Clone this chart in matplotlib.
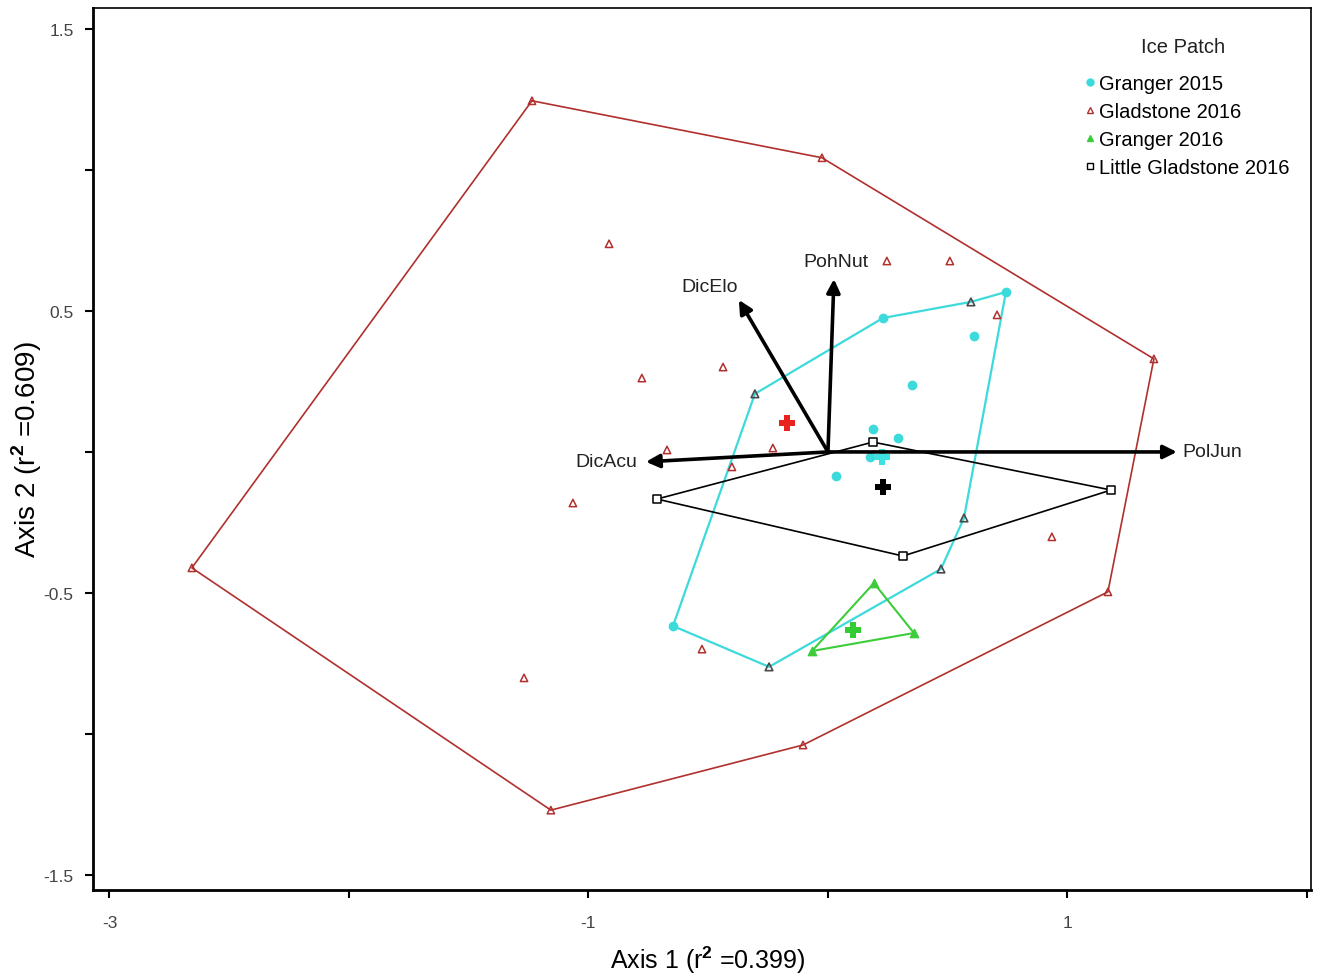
import matplotlib
matplotlib.use("Agg")
import matplotlib.pyplot as plt
from matplotlib.lines import Line2D

plt.rcParams['font.family'] = ['Liberation Sans', 'DejaVu Sans']
plt.rcParams['mathtext.fontset'] = 'custom'
plt.rcParams['mathtext.bf'] = 'Liberation Sans:bold'
plt.rcParams['mathtext.rm'] = 'Liberation Sans'

# NMS site scores, axis 1 / axis 2
glad16_x = [-1.236, -0.025, 1.361, 1.169, -0.104, -1.157, -2.656,
            -0.914, 0.246, 0.509, 0.706, -0.777, -0.438, -0.672, -0.230,
            -0.401, -1.065, 0.935, -0.526, -1.269]
glad16_y = [1.245, 1.043, 0.330, -0.496, -1.039, -1.270, -0.411,
            0.738, 0.677, 0.677, 0.486, 0.262, 0.301, 0.007, 0.014,
            -0.053, -0.181, -0.301, -0.699, -0.801]
glad16_hull = [0, 1, 2, 3, 4, 5, 6]

# plots shared by the Granger 2015 hull (drawn as dark triangles)
shared_x = [-0.305, 0.597, 0.568, 0.472, -0.246]
shared_y = [0.206, 0.532, -0.234, -0.415, -0.762]

gran15_x = [0.743, 0.230, 0.610, 0.351, 0.188, 0.292, 0.175, 0.033, -0.647]
gran15_y = [0.567, 0.475, 0.411, 0.238, 0.082, 0.050, -0.018, -0.085, -0.617]
gran15_hull_x = [-0.305, 0.230, 0.597, 0.743, 0.568, 0.472, -0.246, -0.647]
gran15_hull_y = [0.206, 0.475, 0.532, 0.567, -0.234, -0.415, -0.762, -0.617]

gran16_x = [0.192, 0.359, -0.067]
gran16_y = [-0.465, -0.642, -0.706]

little_x = [-0.714, 0.188, 1.182, 0.313]
little_y = [-0.167, 0.035, -0.135, -0.369]

# group centroids
cent_x = [-0.171, 0.225, 0.230, 0.104]
cent_y = [0.103, -0.018, -0.124, -0.631]
cent_colors = ['#e8221c', '#3fe0e0', 'black', '#33cc33']

# species vectors
species = ['PolJun', 'DicAcu', 'DicElo', 'PohNut']
vec_x = [1.457, -0.760, -0.372, 0.025]
vec_y = [0.0, -0.035, 0.539, 0.613]

RED = '#b0302e'
CYAN = '#3ddadc'
GREEN = '#3ccc3c'

fig = plt.figure(figsize=(13.28, 9.78), dpi=100)
ax = fig.add_axes([0.070, 0.089, 0.9172, 0.9018])
ax.set_xlim(-3.069, 2.017)
ax.set_ylim(-1.553, 1.574)


def closed(xs, ys):
    return list(xs) + [xs[0]], list(ys) + [ys[0]]


# convex hulls
hx, hy = closed([glad16_x[i] for i in glad16_hull], [glad16_y[i] for i in glad16_hull])
ax.plot(hx, hy, color=RED, lw=1.2, zorder=2)
hx, hy = closed(gran15_hull_x, gran15_hull_y)
ax.plot(hx, hy, color=CYAN, lw=1.6, zorder=2)
hx, hy = closed(gran16_x, gran16_y)
ax.plot(hx, hy, color=GREEN, lw=1.5, zorder=2)
hx, hy = closed(little_x, little_y)
ax.plot(hx, hy, color='black', lw=1.2, zorder=2)

# points
ax.scatter(glad16_x, glad16_y, marker='^', s=28, facecolors='none',
           edgecolors=RED, linewidths=1.1, zorder=3)
ax.scatter(shared_x, shared_y, marker='^', s=30, facecolors='none',
           edgecolors='#4a4a4a', linewidths=1.2, zorder=3)
ax.scatter(gran15_x, gran15_y, marker='o', s=36, color=CYAN, zorder=3)
ax.scatter(gran16_x, gran16_y, marker='^', s=36, color=GREEN, zorder=3)
ax.scatter(little_x, little_y, marker='s', s=28, facecolors='white',
           edgecolors='black', linewidths=1.1, zorder=3)

for cx, cy, cc in zip(cent_x, cent_y, cent_colors):
    ax.plot(cx, cy, marker='P', markersize=11, color=cc, markeredgewidth=0, zorder=4)

# species vectors
for name, vx, vy in zip(species, vec_x, vec_y):
    ax.annotate('', xy=(vx, vy), xytext=(0, 0),
                arrowprops=dict(arrowstyle='-|>', color='black', lw=2.6,
                                mutation_scale=20, shrinkA=0, shrinkB=0),
                zorder=5)

label_kw = dict(fontsize=14, color='#222222', zorder=6)
ax.text(1.482, 0.0, 'PolJun', ha='left', va='center', **label_kw)
ax.text(-0.797, -0.035, 'DicAcu', ha='right', va='center', **label_kw)
ax.text(-0.493, 0.585, 'DicElo', ha='center', va='center', **label_kw)
ax.text(0.033, 0.674, 'PohNut', ha='center', va='center', **label_kw)

# axes and ticks
ax.set_xticks([-3, -2, -1, 0, 1, 2])
ax.set_xticklabels(['-3', '', '-1', '', '1', ''])
ax.set_yticks([1.5, 1.0, 0.5, 0.0, -0.5, -1.0, -1.5])
ax.set_yticklabels(['1.5', '', '0.5', '', '-0.5', '', '-1.5'])
ax.tick_params(axis='both', direction='out', length=6, width=1.5,
               labelsize=12.5, labelcolor='#444444')
ax.tick_params(axis='x', pad=12)
ax.tick_params(axis='y', pad=8)
for side in ['left', 'bottom']:
    ax.spines[side].set_linewidth(2.0)
for side in ['top', 'right']:
    ax.spines[side].set_linewidth(1.2)

ax.set_xlabel('Axis 1 (r$^{\\mathbf{2}}$ =0.399)', fontsize=18)
ax.xaxis.set_label_coords(0.505, -0.061)
ax.set_ylabel('Axis 2 (r$^{\\mathbf{2}}$ =0.609)', fontsize=20)
ax.yaxis.set_label_coords(-0.040, 0.5)

# legend: title placed separately for a wider gap above the entries
ax.text(0.895, 0.956, 'Ice Patch', transform=ax.transAxes, ha='center',
        va='center', fontsize=14.5, color='#222222')
handles = [
    Line2D([], [], ls='none', marker='o', markersize=5, color=CYAN),
    Line2D([], [], ls='none', marker='^', markersize=5, markerfacecolor='none',
           markeredgecolor=RED),
    Line2D([], [], ls='none', marker='^', markersize=5, color=GREEN),
    Line2D([], [], ls='none', marker='s', markersize=5, markerfacecolor='none',
           markeredgecolor='black'),
]
labels = ['Granger 2015', 'Gladstone 2016', 'Granger 2016', 'Little Gladstone 2016']
leg = ax.legend(handles, labels, loc='upper left',
                bbox_to_anchor=(0.8148, 0.925), frameon=False, fontsize=14.5,
                handlelength=0.5, handletextpad=0.15,
                labelspacing=0.45, borderaxespad=0, borderpad=0)

fig.savefig('out.png', dpi=100)
